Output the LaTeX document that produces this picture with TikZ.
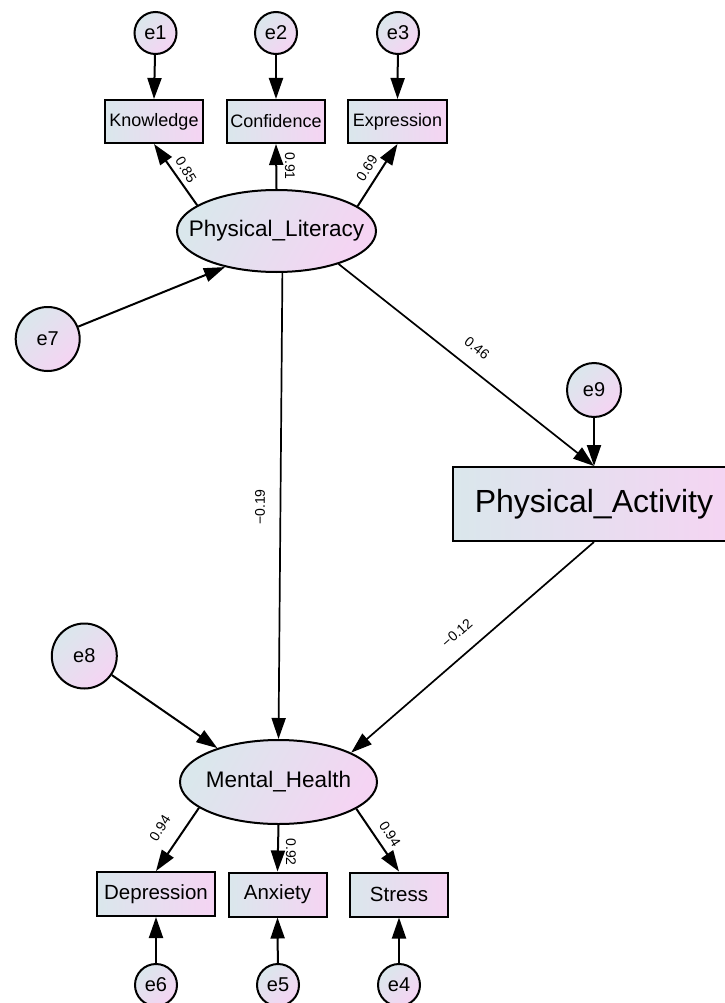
\documentclass[tikz,border=0pt]{standalone}
\usepackage{fontspec}
\setmainfont{Liberation Sans}
\usetikzlibrary{arrows.meta,shapes.geometric}
\definecolor{gl}{RGB}{218,231,236}
\definecolor{gr}{RGB}{245,212,243}
\begin{document}
\begin{tikzpicture}[x=1pt,y=-1pt,
  base/.style={draw=black,line width=2pt,left color=gl,right color=gr,inner sep=0pt},
  obs/.style={base,rectangle,minimum height=43pt},
  obsT/.style={obs,minimum width=98pt,font=\fontsize{18}{20}\selectfont},
  obsB/.style={obs,minimum height=44pt,font=\fontsize{20.5}{22}\selectfont},
  err/.style={base,circle,shading angle=45,minimum size=42pt,font=\fontsize{20}{22}\selectfont},
  lat/.style={base,ellipse,shading angle=60,minimum width=199pt,minimum height=82pt,font=\fontsize{22.5}{24}\selectfont},
  pth/.style={line width=2pt,-{Triangle[length=21pt,width=14pt]}},
  lbl/.style={font=\fontsize{14}{16}\selectfont,inner sep=0pt}]
\useasboundingbox (0,0) rectangle (724,1003);

% latent variables
\node[lat] (PL) at (276.5,231) {\makebox[0pt]{Physical\_Literacy}};
\node[lat,minimum width=197pt,minimum height=84pt] (MH) at (278.5,782) {\makebox[0pt]{Mental\_Health}};

% observed
\node[obsT] (KN) at (154,121.5) {Knowledge};
\node[obsT] (CO) at (276,121.5) {Confidence};
\node[obsT,minimum width=99pt] (EX) at (397.5,121.5) {Expression};
\node[obsB,minimum width=118pt] (DE) at (156,894) {Depression};
\node[obsB,minimum width=98pt] (AN) at (277.5,894.5) {Anxiety};
\node[obsB,minimum width=98pt] (ST) at (399,894.5) {Stress};
\node[base,rectangle,minimum width=282pt,minimum height=74pt,font=\fontsize{32}{34}\selectfont] (PA) at (594,504) {Physical\_Activity};

% errors
\node[err] (e1) at (155.5,33) {e1};
\node[err] (e2) at (276,33) {e2};
\node[err] (e3) at (398,33) {e3};
\node[err] (e6) at (156,985) {e6};
\node[err] (e5) at (278,985) {e5};
\node[err] (e4) at (399,985) {e4};
\node[err,minimum size=64pt] (e7) at (47.7,339) {e7};
\node[err,minimum size=65pt] (e8) at (84.3,656) {e8};
\node[err,minimum size=54pt] (e9) at (594,390) {e9};

% error paths
\draw[pth] (e1) -- (KN.north);
\draw[pth] (e2) -- (CO.north);
\draw[pth] (e3) -- (EX.north);
\draw[pth] (e6) -- (DE.south);
\draw[pth] (e5) -- (AN.south);
\draw[pth] (e4) -- (ST.south);
\draw[pth] (e9) -- (PA.north);
\draw[pth] (e7) -- (PL.215);
\draw[pth] (e8) -- (MH.151);

% loadings
\draw[pth] (PL.162.7) -- (KN.south);
\draw[pth] (PL.north) -- (CO.south);
\draw[pth] (PL.17.7) -- (EX.south);
\draw[pth] (MH.198) -- (DE.north);
\draw[pth] (MH.south) -- (AN.north);
\draw[pth] (MH.-19) -- (ST.north);

% structural paths
\draw[pth,line width=1.7pt] (PL.-28) -- (PA.north);
\draw[pth,line width=1.7pt] (PL.-82) -- (MH.north);
\draw[pth,line width=1.7pt] (PA.south) -- (MH.22);

% labels
\node[lbl,rotate=-58.5] (l1) at (186,170) {0.85};
\node[lbl,rotate=-90] (l2) at (290,166) {0.91};
\node[lbl,rotate=57] (l3) at (367,168) {0.69};
\node[lbl,rotate=-38.5] (l4) at (477,348) {0.46};
\node[lbl,rotate=41.6] (l5) at (457,633) {−0.12};
\node[lbl,rotate=90] (l6) at (260,507) {−0.19};
\node[lbl,rotate=58] (l7) at (160,828) {0.94};
\node[lbl,rotate=-90] (l8) at (291,852) {0.92};
\node[lbl,rotate=-58] (l9) at (390,834) {0.94};
\end{tikzpicture}
\end{document}
